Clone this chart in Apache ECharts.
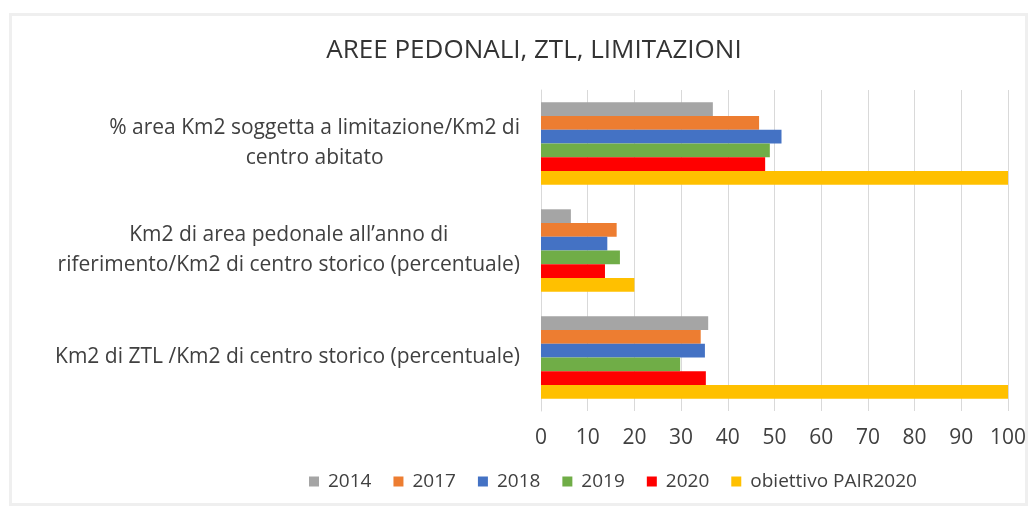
<!DOCTYPE html>
<html>
<head>
<meta charset="utf-8">
<script src="https://cdn.jsdelivr.net/npm/echarts@6/dist/echarts.min.js"></script>
<style>
  html, body { margin: 0; padding: 0; background: #fff; }
  #chart { width: 1032px; height: 506px; }
</style>
</head>
<body>
<div id="chart"></div>
<script>
// Indicators, top to bottom
const categories = [
  '% area Km2 soggetta a limitazione/Km2 di\ncentro abitato',
  'Km2 di area pedonale all\u2019anno di\nriferimento/Km2 di centro storico (percentuale)',
  'Km2 di ZTL /Km2 di centro storico (percentuale)'
];

const seriesNames = ['2014', '2017', '2018', '2019', '2020', 'obiettivo PAIR2020'];

// Values per series, one per indicator (same order as categories)
const v2014 = [36.8, 6.4, 35.8];
const v2017 = [46.7, 16.2, 34.2];
const v2018 = [51.5, 14.2, 35.1];
const v2019 = [49.0, 16.9, 29.8];
const v2020 = [48.0, 13.7, 35.3];
const vTarget = [100, 20, 100];

const xTicks = [0, 10, 20, 30, 40, 50, 60, 70, 80, 90, 100];

const seriesValues = [v2014, v2017, v2018, v2019, v2020, vTarget];
const colors = ['#A5A5A5', '#ED7D31', '#4472C4', '#70AD47', '#FF0000', '#FFC000'];

const FONT = '"Open Sans", sans-serif';

const chart = echarts.init(document.getElementById('chart'), null, { renderer: 'canvas' });

chart.setOption({
  backgroundColor: '#ffffff',
  animation: false,
  color: colors,
  graphic: [{
    type: 'rect',
    left: 8, top: 12,
    shape: { width: 1016, height: 490 },
    style: { fill: 'none', stroke: '#efefef', lineWidth: 3 },
    silent: true
  }],
  title: {
    text: 'AREE PEDONALI, ZTL, LIMITAZIONI',
    left: 529,
    textAlign: 'center',
    top: 33,
    textStyle: { fontFamily: FONT, fontSize: 26, fontWeight: 'normal', color: '#333333' }
  },
  legend: {
    top: 467,
    left: 304,
    itemWidth: 10,
    itemHeight: 10,
    itemGap: 22,
    icon: 'rect',
    data: seriesNames,
    textStyle: { fontFamily: FONT, fontSize: 19, color: '#404040', padding: [0, 0, 0, 4] }
  },
  grid: { left: 541, right: 24, top: 90, height: 321, containLabel: false },
  xAxis: {
    type: 'value',
    min: xTicks[0],
    max: xTicks[xTicks.length - 1],
    interval: 10,
    axisLine: { show: false },
    axisTick: { show: false },
    splitLine: { show: true, lineStyle: { color: '#d9d9d9', width: 1 } },
    axisLabel: {
      margin: 17,
      fontFamily: FONT, fontSize: 21, color: '#404040',
      formatter: v => String(v)
    }
  },
  yAxis: {
    type: 'category',
    inverse: true,
    data: categories,
    axisLine: { show: true, lineStyle: { color: '#d9d9d9' } },
    axisTick: { show: false },
    axisLabel: {
      margin: 21,
      formatter: s => s.split('\n').map(l => '{c|' + l + '}').join('\n'),
      rich: {
        c: { align: 'center', fontFamily: FONT, fontSize: 21, lineHeight: 30, color: '#404040' }
      }
    }
  },
  series: seriesNames.map((name, i) => ({
    name: name,
    type: 'bar',
    data: seriesValues[i],
    barGap: '0%',
    barCategoryGap: '23%',
    itemStyle: { color: colors[i] }
  }))
});
</script>
</body>
</html>
